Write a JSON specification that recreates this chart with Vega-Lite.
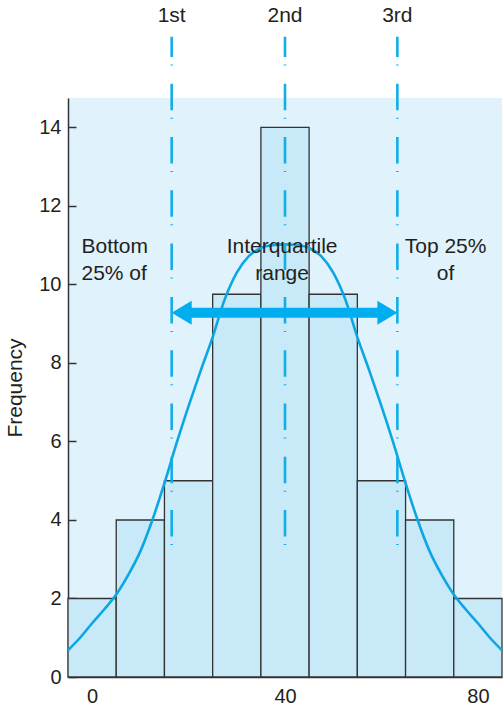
{
  "$schema": "https://vega.github.io/schema/vega-lite/v6.json",
  "width": 434,
  "height": 579,
  "autosize": {"type": "none"},
  "padding": {"left": 68, "top": 98, "right": 1, "bottom": 30},
  "config": {
    "view": {"fill": "#e0f2fb", "stroke": null},
    "font": "Liberation Sans",
    "axis": {
      "labelFont": "Liberation Sans",
      "labelFontSize": 20,
      "labelColor": "#231f20",
      "titleFont": "Liberation Sans",
      "titleFontSize": 21,
      "titleFontWeight": "normal",
      "titleColor": "#231f20",
      "domainColor": "#333333",
      "domainWidth": 1.5,
      "tickColor": "#333333",
      "tickWidth": 1.5,
      "grid": false,
      "zindex": 1
    }
  },
  "datasets": {
    "bars": [
      {"bin_start": -5, "bin_end": 5, "count": 2},
      {"bin_start": 5, "bin_end": 15, "count": 4},
      {"bin_start": 15, "bin_end": 25, "count": 5},
      {"bin_start": 25, "bin_end": 35, "count": 9.75},
      {"bin_start": 35, "bin_end": 45, "count": 14},
      {"bin_start": 45, "bin_end": 55, "count": 9.75},
      {"bin_start": 55, "bin_end": 65, "count": 5},
      {"bin_start": 65, "bin_end": 75, "count": 4},
      {"bin_start": 75, "bin_end": 85, "count": 2}
    ],
    "curve": [
      {"x": -5, "y": 0.68},
      {"x": -2.5, "y": 1.0},
      {"x": 0, "y": 1.37},
      {"x": 2.5, "y": 1.72},
      {"x": 5, "y": 2.1},
      {"x": 7.5, "y": 2.6},
      {"x": 10, "y": 3.2},
      {"x": 12.5, "y": 4.0},
      {"x": 15, "y": 4.94},
      {"x": 17.5, "y": 5.95},
      {"x": 20, "y": 6.9},
      {"x": 22.5, "y": 7.8},
      {"x": 25, "y": 8.66},
      {"x": 27.5, "y": 9.62},
      {"x": 30, "y": 10.3},
      {"x": 32.5, "y": 10.72},
      {"x": 35, "y": 10.93},
      {"x": 37.5, "y": 11.0},
      {"x": 40, "y": 11.02},
      {"x": 42.5, "y": 11.0},
      {"x": 45, "y": 10.93},
      {"x": 47.5, "y": 10.72},
      {"x": 50, "y": 10.3},
      {"x": 52.5, "y": 9.62},
      {"x": 55, "y": 8.66},
      {"x": 57.5, "y": 7.8},
      {"x": 60, "y": 6.9},
      {"x": 62.5, "y": 5.95},
      {"x": 65, "y": 4.94},
      {"x": 67.5, "y": 4.0},
      {"x": 70, "y": 3.2},
      {"x": 72.5, "y": 2.6},
      {"x": 75, "y": 2.1},
      {"x": 77.5, "y": 1.72},
      {"x": 80, "y": 1.37},
      {"x": 82.5, "y": 1.0},
      {"x": 85, "y": 0.68}
    ],
    "quartiles": [
      {"q": 16.5, "label": "1st"},
      {"q": 40, "label": "2nd"},
      {"q": 63.3, "label": "3rd"}
    ],
    "arrow": [
      {"start": 19.5, "end": 60.3, "tipLeft": 16.5, "tipRight": 63.3, "level": 9.28}
    ],
    "notes": [
      {"x": -2.2, "y": 10.79, "text": "Bottom\n25% of"},
      {"x": 39.4, "y": 10.79, "text": "Interquartile\nrange"},
      {"x": 73.3, "y": 10.79, "text": "Top 25%\nof"}
    ]
  },
  "layer": [
    {
      "data": {"name": "bars"},
      "mark": {"type": "rect", "fill": "#c8e9f8", "stroke": "#333333", "strokeWidth": 1.3},
      "encoding": {
        "x": {"field": "bin_start", "type": "quantitative", "scale": {"domain": [-5, 85], "nice": false, "zero": false},
              "axis": {"values": [0, 40, 80], "ticks": false, "title": null, "labelPadding": 9}},
        "x2": {"field": "bin_end"},
        "y": {"field": "count", "type": "quantitative", "scale": {"domain": [0, 14.75], "nice": false, "zero": false},
              "axis": {"values": [0, 2, 4, 6, 8, 10, 12, 14], "title": "Frequency", "tickSize": -8, "labelPadding": 15, "titlePadding": 13}},
        "y2": {"datum": 0}
      }
    },
    {
      "data": {"name": "curve"},
      "mark": {"type": "line", "interpolate": "monotone", "color": "#0ca6e3", "strokeWidth": 2.6},
      "encoding": {
        "x": {"field": "x", "type": "quantitative", "scale": {"domain": [-5, 85], "nice": false, "zero": false}},
        "y": {"field": "y", "type": "quantitative", "scale": {"domain": [0, 14.75], "nice": false, "zero": false}}
      }
    },
    {
      "data": {"name": "quartiles"},
      "mark": {"type": "rule", "color": "#12aee8", "strokeWidth": 2.6, "strokeDash": [1, 7.5, 26.5, 18.3]},
      "encoding": {
        "x": {"field": "q", "type": "quantitative", "scale": {"domain": [-5, 85], "nice": false, "zero": false}},
        "y": {"datum": 3.36, "type": "quantitative", "scale": {"domain": [0, 14.75], "nice": false, "zero": false}},
        "y2": {"datum": 16.31}
      }
    },
    {
      "data": {"name": "arrow"},
      "mark": {"type": "rule", "color": "#00aeef", "strokeWidth": 10},
      "encoding": {
        "x": {"field": "start", "type": "quantitative", "scale": {"domain": [-5, 85], "nice": false, "zero": false}},
        "x2": {"field": "end"},
        "y": {"field": "level", "type": "quantitative", "scale": {"domain": [0, 14.75], "nice": false, "zero": false}}
      }
    },
    {
      "data": {"name": "arrow"},
      "mark": {"type": "point", "shape": "M0,0L1.667,-1L1.667,1Z", "filled": true, "size": 576, "color": "#00aeef", "opacity": 1},
      "encoding": {
        "x": {"field": "tipLeft", "type": "quantitative", "scale": {"domain": [-5, 85], "nice": false, "zero": false}},
        "y": {"field": "level", "type": "quantitative", "scale": {"domain": [0, 14.75], "nice": false, "zero": false}}
      }
    },
    {
      "data": {"name": "arrow"},
      "mark": {"type": "point", "shape": "M0,0L-1.667,-1L-1.667,1Z", "filled": true, "size": 576, "color": "#00aeef", "opacity": 1},
      "encoding": {
        "x": {"field": "tipRight", "type": "quantitative", "scale": {"domain": [-5, 85], "nice": false, "zero": false}},
        "y": {"field": "level", "type": "quantitative", "scale": {"domain": [0, 14.75], "nice": false, "zero": false}}
      }
    },
    {
      "data": {"name": "quartiles"},
      "mark": {"type": "text", "fontSize": 21, "align": "center", "baseline": "alphabetic", "color": "#231f20", "font": "Liberation Sans"},
      "encoding": {
        "x": {"field": "q", "type": "quantitative", "scale": {"domain": [-5, 85], "nice": false, "zero": false}},
        "y": {"datum": 16.69, "type": "quantitative", "scale": {"domain": [0, 14.75], "nice": false, "zero": false}},
        "text": {"field": "label", "type": "nominal"}
      }
    },
    {
      "data": {"name": "notes"},
      "transform": [{"filter": "datum.x < 0"}],
      "mark": {"type": "text", "fontSize": 21, "align": "left", "baseline": "alphabetic", "lineBreak": "\n", "lineHeight": 26.7, "color": "#231f20", "font": "Liberation Sans"},
      "encoding": {
        "x": {"field": "x", "type": "quantitative", "scale": {"domain": [-5, 85], "nice": false, "zero": false}},
        "y": {"field": "y", "type": "quantitative", "scale": {"domain": [0, 14.75], "nice": false, "zero": false}},
        "text": {"field": "text", "type": "nominal"}
      }
    },
    {
      "data": {"name": "notes"},
      "transform": [{"filter": "datum.x >= 0"}],
      "mark": {"type": "text", "fontSize": 21, "align": "center", "baseline": "alphabetic", "lineBreak": "\n", "lineHeight": 26.7, "color": "#231f20", "font": "Liberation Sans"},
      "encoding": {
        "x": {"field": "x", "type": "quantitative", "scale": {"domain": [-5, 85], "nice": false, "zero": false}},
        "y": {"field": "y", "type": "quantitative", "scale": {"domain": [0, 14.75], "nice": false, "zero": false}},
        "text": {"field": "text", "type": "nominal"}
      }
    }
  ]
}
